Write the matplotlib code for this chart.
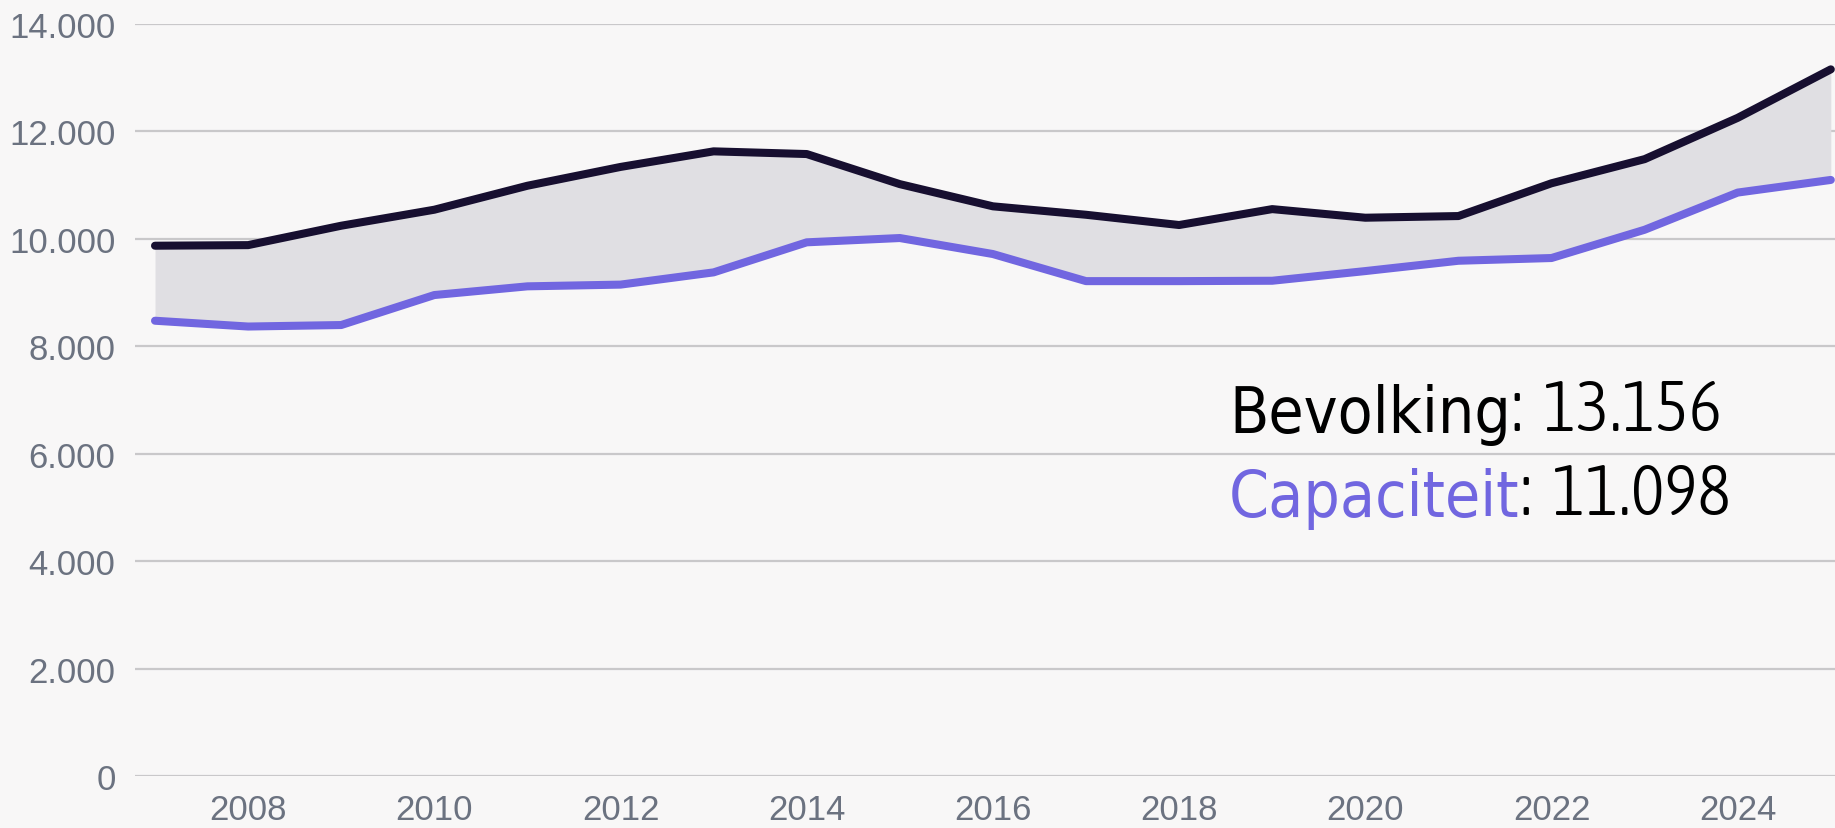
import matplotlib
matplotlib.use("Agg")
import matplotlib.pyplot as plt
from matplotlib import font_manager
from matplotlib.font_manager import FontProperties
from matplotlib.ticker import FuncFormatter

years = list(range(2007, 2026))
bevolking = [9874, 9885, 10246, 10544, 10990, 11340, 11630, 11580, 11020, 10607,
             10450, 10259, 10555, 10395, 10426, 11036, 11485, 12254, 13156]
capaciteit = [8478, 8370, 8398, 8956, 9118, 9150, 9378, 9937, 10017, 9719,
              9215, 9215, 9222, 9402, 9594, 9645, 10171, 10863, 11098]
y_ticks = [0, 2000, 4000, 6000, 8000, 10000, 12000, 14000]
x_ticks = [2008, 2010, 2012, 2014, 2016, 2018, 2020, 2022, 2024]
label_bev = "Bevolking"
label_cap = "Capaciteit"
val_bev = "13.156"
val_cap = "11.098"

BG = "#f8f7f7"
DARK = "#170f30"
PURPLE = "#7166e0"
FILL = "#e0dfe3"
GRID = "#c9c8ca"
TICK = "#6b7280"

fl = font_manager.fontManager.ttflist
installed = {f.name for f in fl}
tick_font = "Liberation Sans" if "Liberation Sans" in installed else "DejaVu Sans"


def find_condensed(weight_pref):
    cands = []
    for f in fl:
        nm = f.name.lower()
        fn = f.fname.lower()
        cond = ("condensed" in nm or "narrow" in nm or "condensed" in fn
                or "narrow" in fn or str(f.stretch) in ("condensed", "semi-condensed",
                                                      "extra-condensed", "ultra-condensed"))
        if not cond or "italic" in fn or "oblique" in fn or f.style != "normal":
            continue
        try:
            w = int(f.weight)
        except Exception:
            w = {"light": 300, "normal": 400, "regular": 400, "book": 400,
                 "medium": 500, "bold": 700}.get(str(f.weight), 400)
        cands.append((abs(w - weight_pref), f.fname))
    if not cands:
        return None
    cands.sort()
    return cands[0][1]


reg_file = find_condensed(400)
light_file = find_condensed(300)
if reg_file:
    p_reg = FontProperties(fname=reg_file, size=46)
    p_light = FontProperties(fname=light_file or reg_file, size=51)
else:
    p_reg = FontProperties(family="DejaVu Sans", size=36)
    p_light = FontProperties(family="DejaVu Sans", weight="light", size=38)

fig = plt.figure(figsize=(18.35, 8.29), dpi=100, facecolor=BG)
ax = fig.add_axes([135 / 1835, (829 - 777.3) / 829, 1 - 135 / 1835, (777.3 - 25) / 829])
ax.set_facecolor(BG)

ax.fill_between(years, capaciteit, bevolking, color=FILL, lw=0, zorder=2)
ax.plot(years, bevolking, color=DARK, lw=5.8, solid_capstyle="round",
        solid_joinstyle="round", zorder=3, clip_on=False)
ax.plot(years, capaciteit, color=PURPLE, lw=5.8, solid_capstyle="round",
        solid_joinstyle="round", zorder=3, clip_on=False)

ax.set_xlim(2006.785, 2025.045)
ax.set_ylim(0, 14000)
ax.set_yticks(y_ticks)
ax.set_xticks(x_ticks)
ax.yaxis.set_major_formatter(FuncFormatter(lambda v, p: f"{int(v):,}".replace(",", ".")))
ax.grid(axis="y", color=GRID, lw=1.6, zorder=1)
ax.grid(axis="x", visible=False)
for s in ax.spines.values():
    s.set_visible(False)
ax.tick_params(axis="both", length=0, labelsize=25, labelcolor=TICK)
ax.tick_params(axis="y", pad=14)
ax.tick_params(axis="x", pad=12)
for lbl in ax.get_xticklabels() + ax.get_yticklabels():
    lbl.set_fontfamily(tick_font)

t1 = ax.text(1229 / 1835, (829 - 433) / 829, label_bev, color="#000000",
             fontproperties=p_reg, va="baseline", ha="left",
             transform=fig.transFigure, zorder=5)
ax.annotate(":  " + val_bev, xy=(1, 0), xycoords=t1, va="bottom", ha="left",
            color="#000000", fontproperties=p_light,
            annotation_clip=False, zorder=5)
t2 = ax.text(1229 / 1835, (829 - 517) / 829, label_cap, color=PURPLE,
             fontproperties=p_reg, va="baseline", ha="left",
             transform=fig.transFigure, zorder=5)
ax.annotate(":  " + val_cap, xy=(1, 0), xycoords=t2, va="bottom", ha="left",
            color="#000000", fontproperties=p_light,
            annotation_clip=False, zorder=5)

fig.savefig("out.png", dpi=100, facecolor=BG)
